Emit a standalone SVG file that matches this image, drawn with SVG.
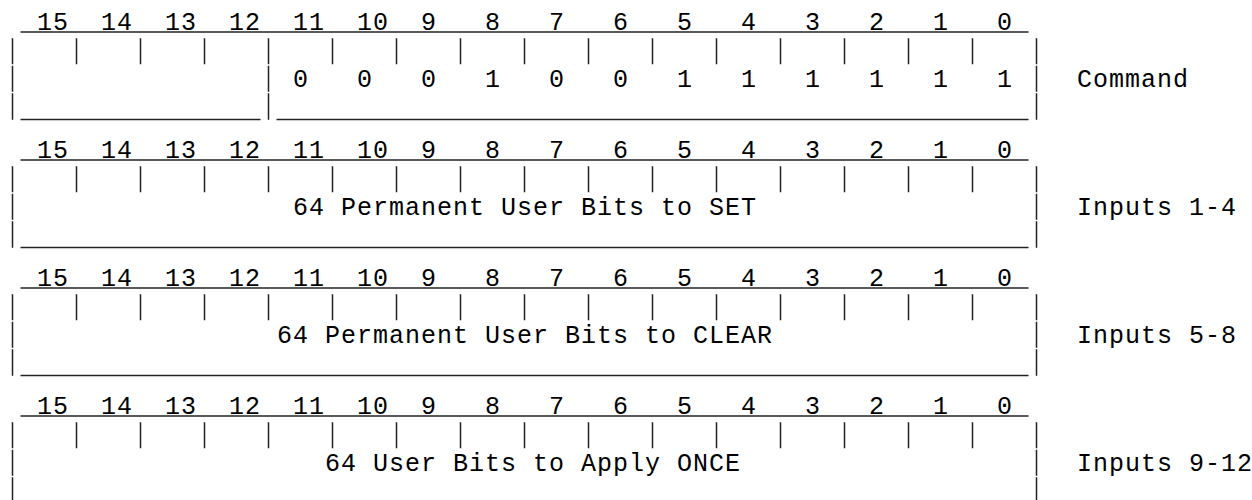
<svg xmlns="http://www.w3.org/2000/svg" width="1252" height="500" viewBox="0 0 1252 500">
<style>
text{font-family:"Liberation Mono","DejaVu Sans Mono",monospace;font-size:25px;letter-spacing:1px;fill:#000}
.fr{stroke:#222;stroke-width:1.5;fill:none}
.ul{stroke:#222;stroke-width:1.6;fill:none}
</style>
<rect width="1252" height="500" fill="#fff"/>
<defs>
<g id="hdr">
<text x="37" y="-2">15</text><text x="101" y="-2">14</text><text x="165" y="-2">13</text><text x="229" y="-2">12</text><text x="293" y="-2">11</text><text x="357" y="-2">10</text>
<text x="421" y="-2">9</text><text x="485" y="-2">8</text><text x="549" y="-2">7</text><text x="613" y="-2">6</text><text x="677" y="-2">5</text><text x="741" y="-2">4</text><text x="805" y="-2">3</text><text x="869" y="-2">2</text><text x="933" y="-2">1</text><text x="997" y="-2">0</text>
<line class="ul" x1="20.5" y1="0" x2="1028.5" y2="0"/>
<path class="fr" d="M12.5 6.3V32.3M76.5 6.3V32.3M140.5 6.3V32.3M204.5 6.3V32.3M268.5 6.3V32.3M332.5 6.3V32.3M396.5 6.3V32.3M460.5 6.3V32.3M524.5 6.3V32.3M588.5 6.3V32.3M652.5 6.3V32.3M716.5 6.3V32.3M780.5 6.3V32.3M844.5 6.3V32.3M908.5 6.3V32.3M972.5 6.3V32.3M1036.5 6.3V32.3"/>
<path class="fr" d="M12.5 33.8V59.8M12.5 61.3V87.8M1036.5 33.8V59.8M1036.5 61.3V87.8"/>
</g>
</defs>
<g id="command" transform="translate(0,32)">
<use href="#hdr"/>
<path class="fr" d="M268.5 33.8V59.8M268.5 61.3V87.8"/>
<line class="ul" x1="20.5" y1="87.5" x2="260.5" y2="87.5"/>
<line class="ul" x1="276.5" y1="87.5" x2="1028.5" y2="87.5"/>
<text x="293" y="55">0</text><text x="357" y="55">0</text><text x="421" y="55">0</text><text x="485" y="55">1</text><text x="549" y="55">0</text><text x="613" y="55">0</text><text x="677" y="55">1</text><text x="741" y="55">1</text><text x="805" y="55">1</text><text x="869" y="55">1</text><text x="933" y="55">1</text><text x="997" y="55">1</text>
<text x="1077" y="55">Command</text>
</g>
<g id="inputs1-4" transform="translate(0,160)">
<use href="#hdr"/>
<line class="ul" x1="20.5" y1="87.5" x2="1028.5" y2="87.5"/>
<text x="293" y="55">64 Permanent User Bits to SET</text>
<text x="1077" y="55">Inputs 1-4</text>
</g>
<g id="inputs5-8" transform="translate(0,288)">
<use href="#hdr"/>
<line class="ul" x1="20.5" y1="87.5" x2="1028.5" y2="87.5"/>
<text x="277" y="55">64 Permanent User Bits to CLEAR</text>
<text x="1077" y="55">Inputs 5-8</text>
</g>
<g id="inputs9-12" transform="translate(0,416)">
<use href="#hdr"/>
<line class="ul" x1="20.5" y1="87.5" x2="1028.5" y2="87.5"/>
<text x="325" y="55">64 User Bits to Apply ONCE</text>
<text x="1077" y="55">Inputs 9-12</text>
</g>
</svg>
